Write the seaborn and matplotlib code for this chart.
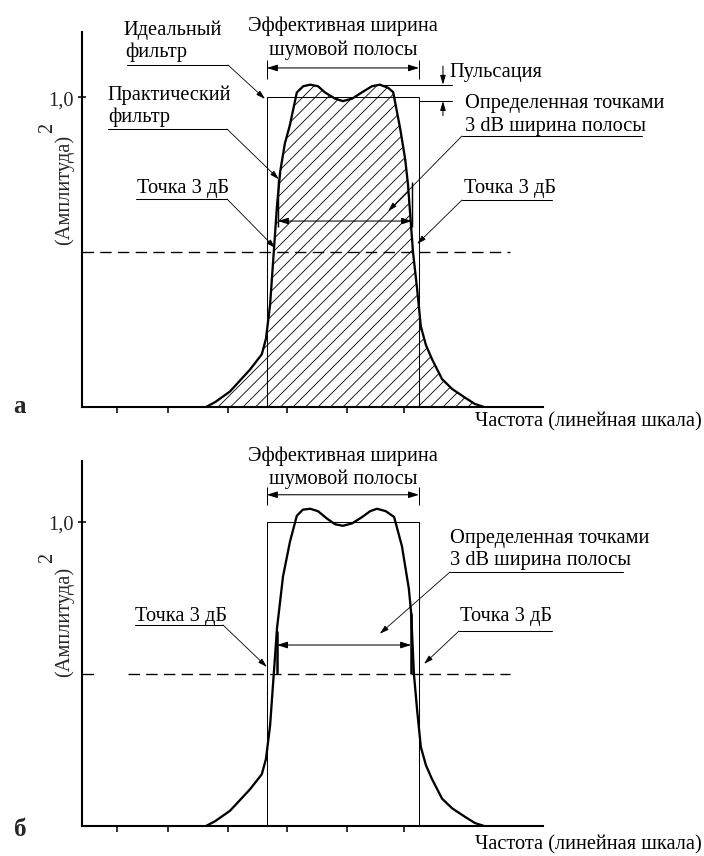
import matplotlib
matplotlib.use("Agg")
import numpy as np
import pandas as pd
import matplotlib.pyplot as plt
import seaborn as sns

# ---- data -------------------------------------------------------------
# frequency in arbitrary linear units (the axis runs from 0 to 100)
freq_a = [26.9, 28.9, 32.1, 36.4, 39.0, 39.9, 40.8, 41.6, 42.3, 43.0, 44.0,
          45.1, 46.6, 48.0, 49.5, 51.2, 52.7, 54.9, 56.6, 58.6, 60.7, 62.9,
          64.6, 66.4, 67.5, 69.0, 70.1, 70.7, 71.8, 72.7, 73.5, 74.6, 75.9,
          78.1, 80.3, 83.1, 85.2, 87.2]
power_a = [0.0, 0.016, 0.05, 0.12, 0.17, 0.22, 0.33, 0.50, 0.65, 0.76, 0.85,
           0.91, 1.015, 1.035, 1.04, 1.035, 1.015, 0.995, 0.987, 0.995, 1.015,
           1.035, 1.04, 1.03, 1.016, 0.90, 0.80, 0.72, 0.50, 0.38, 0.26, 0.20,
           0.155, 0.09, 0.058, 0.03, 0.01, 0.0]

freq_b = [26.9, 28.9, 32.1, 36.4, 39.0, 39.9, 40.8, 41.6, 42.3, 43.6, 45.1,
          46.6, 47.9, 49.5, 51.2, 53.2, 54.9, 56.6, 58.6, 60.7, 62.5, 64.0,
          65.9, 67.7, 69.4, 70.9, 71.4, 72.0, 72.7, 73.5, 74.6, 75.9, 78.1,
          80.3, 83.1, 85.2, 87.2]
power_b = [0.0, 0.016, 0.05, 0.12, 0.17, 0.22, 0.33, 0.50, 0.65, 0.82, 0.934,
           1.02, 1.04, 1.043, 1.035, 1.01, 0.992, 0.987, 0.995, 1.015, 1.035,
           1.043, 1.035, 1.016, 0.92, 0.78, 0.70, 0.50, 0.38, 0.26, 0.20,
           0.155, 0.09, 0.058, 0.03, 0.01, 0.0]

ideal_band = [40.1, 73.1]      # edges of the ideal (rectangular) filter
ideal_level = 1.0
half_power = 0.5               # 3 dB level
width3db_a = [42.5, 71.6]      # ends of the 3 dB bandwidth arrow, panel a
width3db_b = [42.3, 71.4]      # same, panel b
arrow3db_level = [0.60, 0.595]
enbw_level = [1.094, 1.089]    # level of the noise-bandwidth arrow
x_ticks = [7.6, 18.7, 31.7, 44.5, 57.5, 69.8]
y_ticks = [1.0]
y_tick_labels = ["1,0"]

# ---- style ------------------------------------------------------------
sns.set_style("ticks")
plt.rcParams["font.family"] = ["Liberation Serif", "DejaVu Serif"]
plt.rcParams["hatch.linewidth"] = 0.8
plt.rcParams["lines.scale_dashes"] = False

W, H, DPI = 704, 857, 75
FS = 19.5
fig = plt.figure(figsize=(W / DPI, H / DPI), dpi=DPI)
fig.patch.set_facecolor("white")


def px_axes(left, top, right, bottom):
    return fig.add_axes([left / W, 1 - bottom / H, (right - left) / W,
                         (bottom - top) / H])


ax_a = px_axes(82, 33, 543, 408)
ax_b = px_axes(82, 462, 543, 827)

note = fig.add_axes([0, 0, 1, 1], zorder=10)
note.set_xlim(0, W)
note.set_ylim(H, 0)
note.axis("off")
note.patch.set_alpha(0)


def setup(ax, ytop):
    ax.set_xlim(0, 100)
    ax.set_ylim(0, ytop)
    sns.despine(ax=ax)
    for s in ("left", "bottom"):
        ax.spines[s].set_linewidth(2.0)
        ax.spines[s].set_color("black")
    ax.set_xticks(x_ticks)
    ax.set_xticklabels([])
    ax.tick_params(axis="x", direction="out", length=6, width=1.5,
                   color="black")
    ax.set_yticks(y_ticks)
    ax.set_yticklabels(y_tick_labels, fontsize=FS)
    ax.tick_params(axis="y", direction="inout", length=8, width=1.5,
                   color="black", pad=4)
    ax.patch.set_alpha(0)


def ideal_outline(ax):
    lo, hi = ideal_band
    rect = pd.DataFrame({"f": [lo, lo, hi, hi],
                         "p": [0, ideal_level, ideal_level, 0]})
    sns.lineplot(data=rect, x="f", y="p", ax=ax, sort=False, estimator=None,
                 color="black", lw=1.0)


def double_arrow(ax, x0, x1, y, lw=1.0):
    ax.annotate("", xy=(x1, y), xytext=(x0, y),
                arrowprops=dict(arrowstyle="<|-|>,head_length=0.7,head_width=0.22",
                                lw=lw, color="black", mutation_scale=12,
                                shrinkA=0, shrinkB=0))


def arrow(ax, start, end, lw=0.8):
    ax.annotate("", xy=end, xytext=start,
                arrowprops=dict(arrowstyle="-|>,head_length=0.6,head_width=0.18",
                                lw=lw, color="black", mutation_scale=12,
                                shrinkA=0, shrinkB=0))


def leader(ax, x0, x1, y, tip, start_right=True):
    # underline under a label, then a slanted line ending in an arrow
    note.plot([x0, x1], [y, y], color="black", lw=1.0)
    sx = x1 if start_right else x0
    note.annotate("", xy=tip, xycoords=ax.transData, xytext=(sx, y),
                  textcoords=note.transData,
                  arrowprops=dict(arrowstyle="-|>,head_length=0.6,head_width=0.18",
                                  lw=0.8, color="black", mutation_scale=12,
                                  shrinkA=0, shrinkB=0))


def label(x, y, s, **kw):
    note.text(x, y, s, fontsize=FS, va="baseline", color="black", **kw)


# ---- panel a ----------------------------------------------------------
setup(ax_a, 1.21)
ax_a.fill_between(freq_a, power_a, 0, facecolor="none", edgecolor="black",
                  hatch="//", linewidth=0)
ideal_outline(ax_a)
sns.lineplot(x=freq_a, y=power_a, ax=ax_a, sort=False, estimator=None,
             color="black", lw=2.2)
ax_a.plot([0, 92.8], [half_power] * 2, color="black", lw=1.3,
          ls=(0, (11, 6)))

lo, hi = ideal_band
double_arrow(ax_a, lo, hi, enbw_level[0])
ax_a.vlines([lo, hi], enbw_level[0] - 0.035, enbw_level[0] + 0.025,
            color="black", lw=1.0)

double_arrow(ax_a, width3db_a[0], width3db_a[1], arrow3db_level[0])
ax_a.vlines([width3db_a[0], width3db_a[1]], arrow3db_level[0] - 0.02,
            [0.735, 0.725], color="black", lw=1.4)

# ripple markers
ripple_hi = max(power_a)
ripple_lo = min(p for f, p in zip(freq_a, power_a) if 50 < f < 64)
ax_a.plot([65.5, 80.3], [ripple_hi] * 2, color="black", lw=1.0)
ax_a.plot([hi, 80.3], [ripple_lo] * 2, color="black", lw=1.0)
arrow(ax_a, (78.3, 1.10), (78.3, ripple_hi), lw=1.0)
arrow(ax_a, (78.3, 0.94), (78.3, ripple_lo), lw=1.0)

label(123, 35, "Идеальный")
label(125, 57, "фильтр")
leader(ax_a, 127, 228, 66, (39.7, 0.994))
label(107, 100, "Практический")
label(108, 122, "фильтр")
leader(ax_a, 108, 227, 130, (42.7, 0.735))
label(137, 193, "Точка 3 дБ")
leader(ax_a, 136, 227, 200, (41.9, 0.513))
label(343, 31, "Эффективная ширина", ha="center")
label(343, 55, "шумовой полосы", ha="center")
label(449, 77, "Пульсация")
label(465, 108, "Определенная точками")
label(465, 131, "3 dB ширина полосы")
leader(ax_a, 462, 642, 137, (66.4, 0.632), start_right=False)
label(464, 193, "Точка 3 дБ")
leader(ax_a, 462, 552, 201, (72.7, 0.526), start_right=False)

note.text(64, 190, "(Амплитуда)", fontsize=FS, rotation=90,
          ha="center", va="center")
note.text(48, 128, "2", fontsize=FS, rotation=90, ha="center", va="center")
note.text(20, 413, "а", fontsize=24, fontweight="bold", ha="center",
          va="baseline")
label(702, 426, "Частота (линейная шкала)", ha="right")

# ---- panel b ----------------------------------------------------------
setup(ax_b, 1.20)
ideal_outline(ax_b)
sns.lineplot(x=freq_b, y=power_b, ax=ax_b, sort=False, estimator=None,
             color="black", lw=2.2)
ax_b.plot([10.0, 92.8], [half_power] * 2, color="black", lw=1.3,
          ls=(0, (11, 6)))
ax_b.plot([0, 2.4], [half_power] * 2, color="black", lw=1.3)

double_arrow(ax_b, lo, hi, enbw_level[1])
ax_b.vlines([lo, hi], enbw_level[1] - 0.035, enbw_level[1] + 0.025,
            color="black", lw=1.0)
double_arrow(ax_b, width3db_b[0], width3db_b[1], arrow3db_level[1])
ax_b.vlines([width3db_b[0], width3db_b[1]], half_power, [0.64, 0.70],
            color="black", lw=2.4)

label(343, 461, "Эффективная ширина", ha="center")
label(343, 484, "шумовой полосы", ha="center")
label(135, 621, "Точка 3 дБ")
leader(ax_b, 135, 223, 626, (40.1, 0.523))
label(450, 543, "Определенная точками")
label(450, 565, "3 dB ширина полосы")
leader(ax_b, 450, 623, 573, (64.6, 0.632), start_right=False)
label(460, 621, "Точка 3 дБ")
leader(ax_b, 459, 552, 632, (74.2, 0.533), start_right=False)

note.text(64, 622, "(Амплитуда)", fontsize=FS, rotation=90,
          ha="center", va="center")
note.text(48, 558, "2", fontsize=FS, rotation=90, ha="center", va="center")
note.text(20, 836, "б", fontsize=24, fontweight="bold", ha="center",
          va="baseline")
label(702, 849, "Частота (линейная шкала)", ha="right")

# seaborn names the axes after the data columns; the diagram has none
for ax in (ax_a, ax_b):
    ax.set_xlabel("")
    ax.set_ylabel("")

fig.savefig("out.png", dpi=DPI, facecolor="white")
